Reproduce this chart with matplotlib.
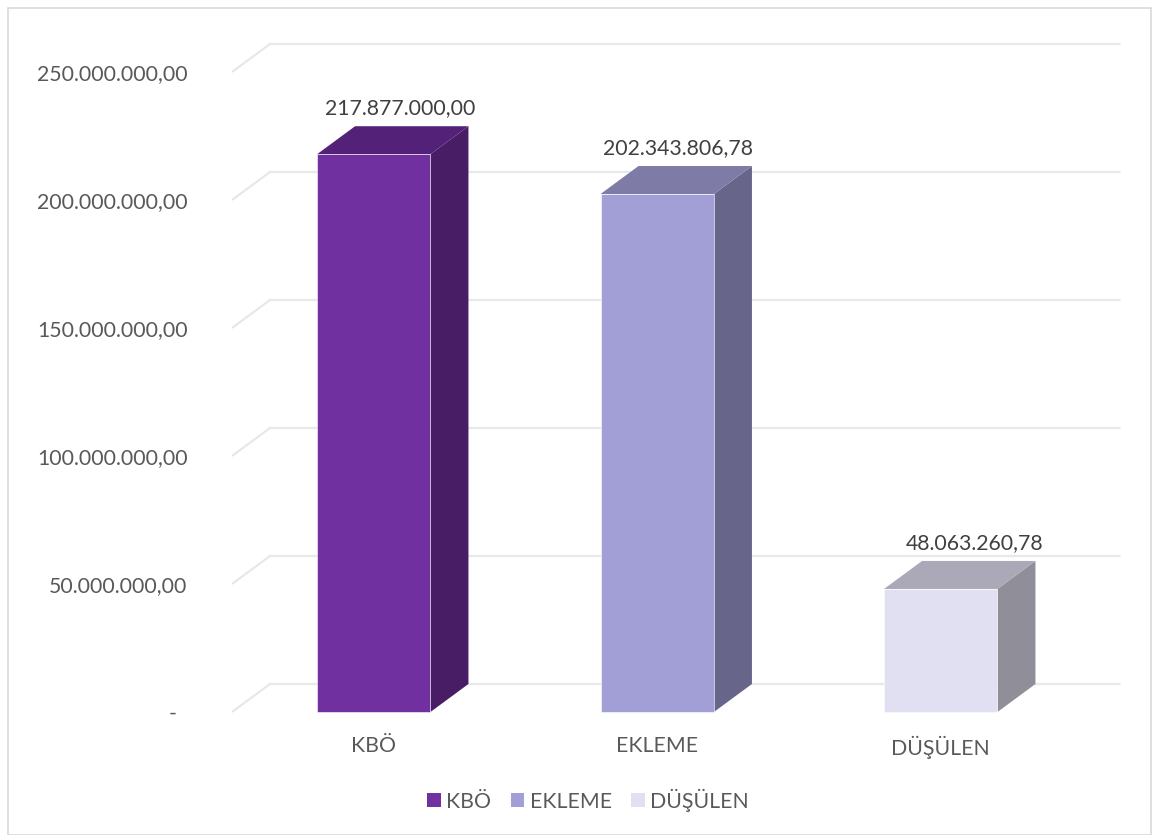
import matplotlib
matplotlib.use("Agg")
import matplotlib.pyplot as plt
from matplotlib.patches import Polygon, Rectangle, Patch

plt.rcParams['font.family'] = ['Lato', 'DejaVu Sans']

# veriler
categories = ['KBÖ', 'EKLEME', 'DÜŞÜLEN']
values = [217877000.00, 202343806.78, 48063260.78]
y_ticks = [0, 50000000, 100000000, 150000000, 200000000, 250000000]

front_colors = ['#7030A0', '#A29FD6', '#E1DFF2']
top_colors = ['#532178', '#7E7BA6', '#ABA9B8']
side_colors = ['#481D66', '#67668A', '#8F8E99']

FS = 15.3


def tr_format(v):
    # 1234567.8 -> 1.234.567,80
    s = f"{v:,.2f}"
    return s.replace(',', 'X').replace('.', ',').replace('X', '.')


W, H = 1152, 835
fig = plt.figure(figsize=(W / 100, H / 100), dpi=100)
fig.patch.set_facecolor('white')

# dış çerçeve
fig.add_artist(Rectangle((8 / W, 0), 1 - 9 / W, 1 - 8 / H, transform=fig.transFigure,
                         fill=False, edgecolor='#D9D9D9', lw=1.2))

# ön düzlem: x 232..1082.5 px, y 712..72 px
ax = fig.add_axes([232 / W, (H - 712) / H, 850.5 / W, 640 / H])
ax.set_xlim(-0.5, 2.5)
ax.set_ylim(0, 250000000)
for sp in ax.spines.values():
    sp.set_visible(False)
ax.set_facecolor('none')

# derinlik (3B görünüm)
dx = 38 / 283.5
dy = 28 / 640 * 250000000
bw = 0.4
x0, x1 = ax.get_xlim()

# ızgara çizgileri: sol köşegen + arka duvar
for t in y_ticks:
    ax.plot([x0, x0 + dx, x1 + dx], [t, t + dy, t + dy], color='#E8E8E8',
            lw=1.6, clip_on=False, zorder=1, solid_capstyle='butt')

label_shift = [0.7, 0.55, 0.9]
for i, (cat, v) in enumerate(zip(categories, values)):
    l, r = i - bw / 2, i + bw / 2
    side = Polygon([(r, 0), (r + dx, dy), (r + dx, v + dy), (r, v)],
                   closed=True, facecolor=side_colors[i], edgecolor='none',
                   clip_on=False, zorder=3)
    top = Polygon([(l, v), (r, v), (r + dx, v + dy), (l + dx, v + dy)],
                  closed=True, facecolor=top_colors[i], edgecolor='none',
                  clip_on=False, zorder=3)
    front = Rectangle((l, 0), bw, v, facecolor=front_colors[i],
                      edgecolor='#FFFFFF', lw=0.4, clip_on=False, zorder=4)
    ax.add_patch(side)
    ax.add_patch(top)
    ax.add_patch(front)
    ax.annotate(tr_format(v), xy=(i + dx * label_shift[i], v + dy), xytext=(0, 6),
                textcoords='offset points', ha='center', va='bottom',
                fontsize=FS, color='#404040', zorder=5)

ax.set_yticks(y_ticks)
ax.set_yticklabels(['-  '] + [tr_format(t) for t in y_ticks[1:]])
ax.set_xticks(range(len(categories)))
ax.set_xticklabels(categories)
ax.tick_params(axis='y', length=0, pad=32, labelsize=FS, labelcolor='#595959')
ax.tick_params(axis='x', length=0, pad=17, labelsize=FS, labelcolor='#595959')

handles = [Patch(facecolor=c, edgecolor='none', label=cat)
           for c, cat in zip(front_colors, categories)]
leg = fig.legend(handles=handles, loc='center', ncol=3,
                 bbox_to_anchor=(588 / W, 1 - 800 / H), frameon=False,
                 fontsize=FS, handlelength=0.65, handleheight=0.65,
                 handletextpad=0.25, columnspacing=0.9)
for txt in leg.get_texts():
    txt.set_color('#595959')

fig.savefig('out.png', dpi=100)
